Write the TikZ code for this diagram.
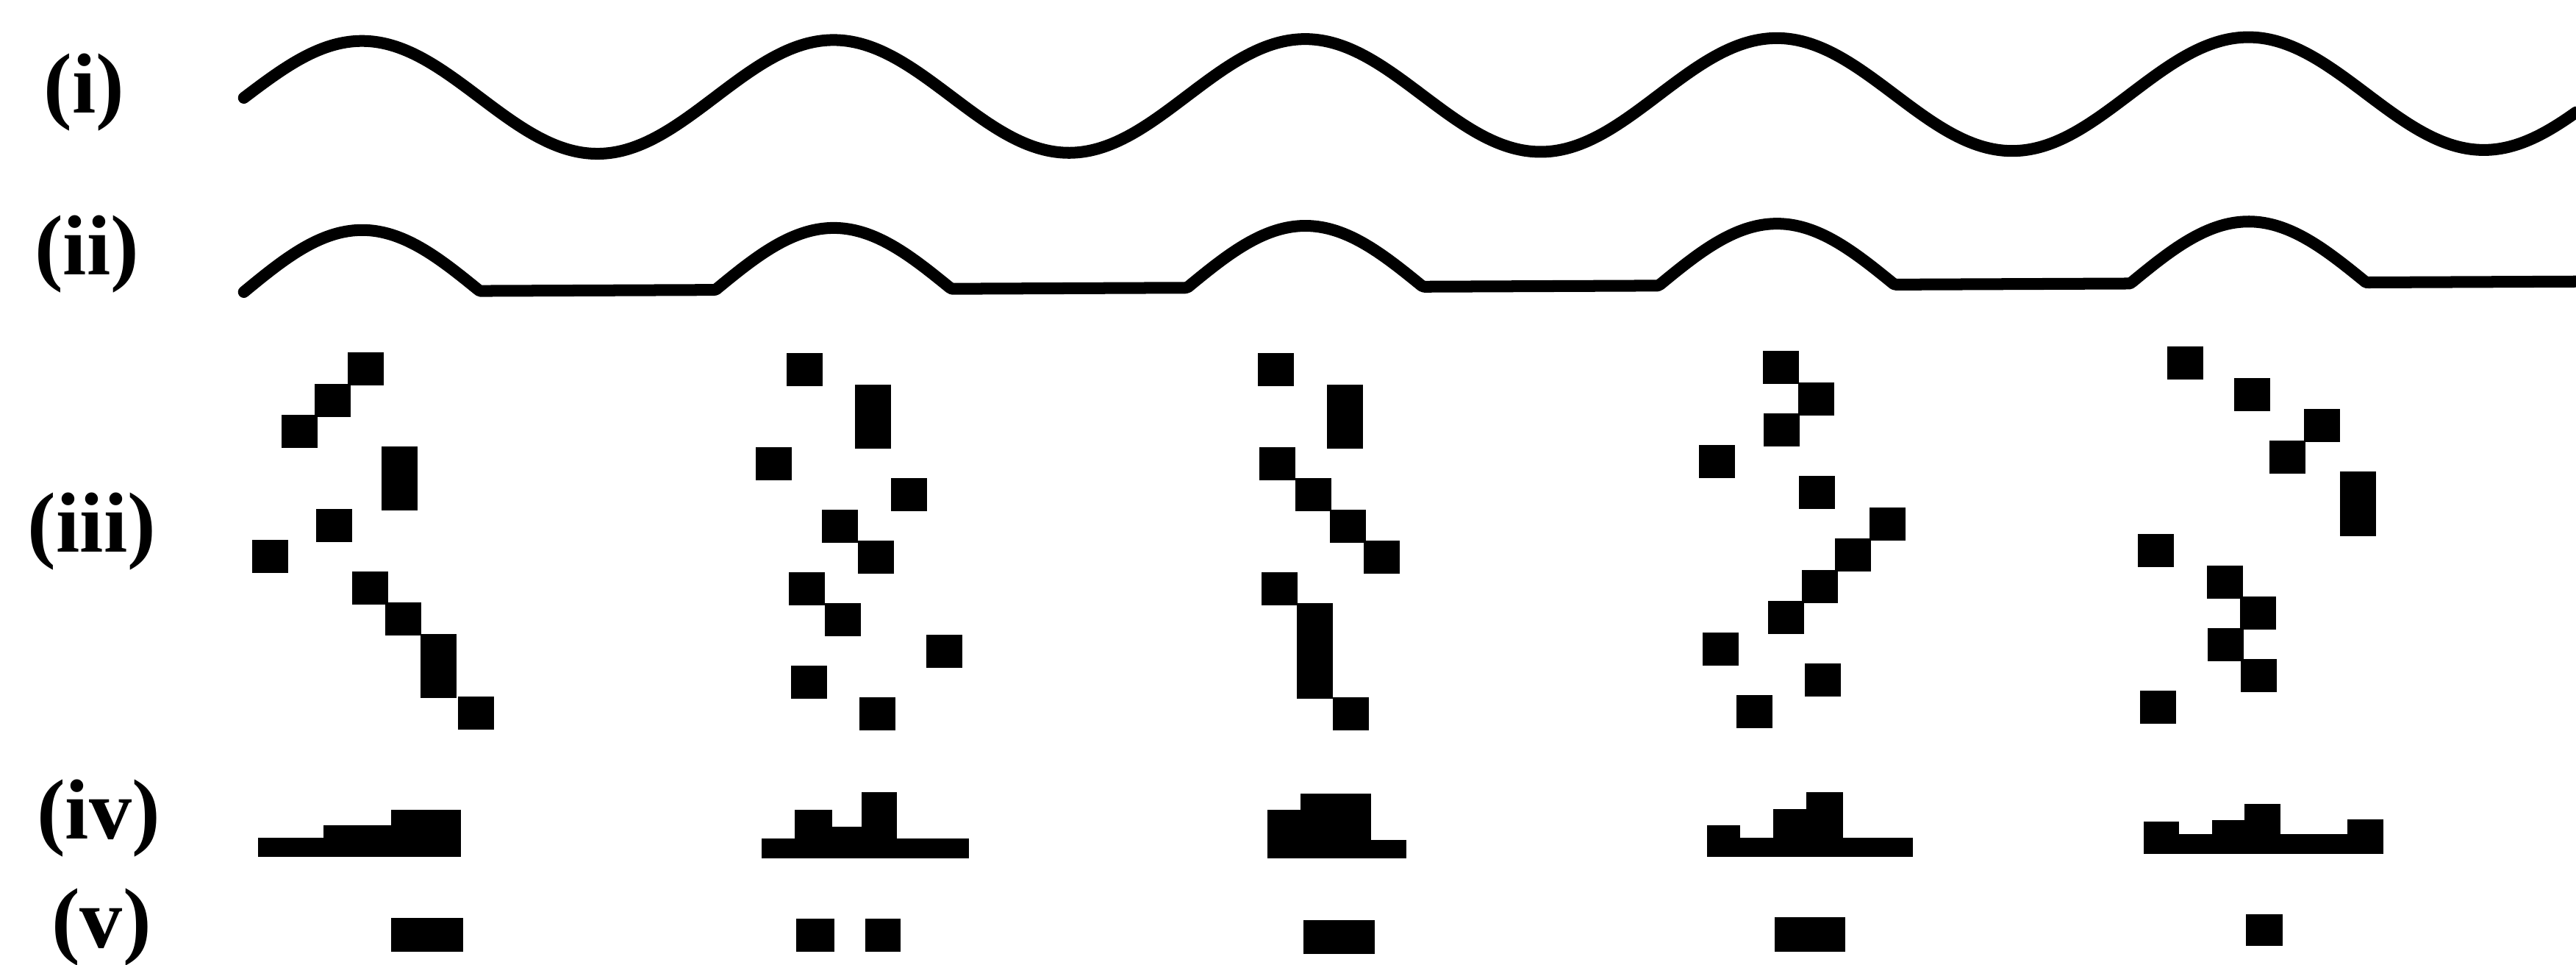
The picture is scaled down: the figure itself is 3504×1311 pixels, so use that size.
\documentclass[tikz,border=0pt]{standalone}
\usepackage{fontspec}
\setmainfont{Liberation Serif}
\begin{document}
\begin{tikzpicture}[x=0.01cm, y=-0.01cm,
  wave/.style={line width=0.16cm, line cap=round, line join=round, black},
  lbl/.style={font=\fontsize{33}{40}\selectfont\bfseries, inner sep=0pt, anchor=base},
  spike/.style={fill=black},
  bar/.style={fill=black}]
\useasboundingbox (0,0) rectangle (3504,1311);
\newcommand\spk[4]{\fill[spike] (#1,{#2+42.5*#3}) rectangle ++(49,{2.5+42.5*#4});}

% labels
\node[lbl] (l1) at (114.7,153) {(i)};
\node[lbl] (l2) at (118,373) {(ii)};
\node[lbl] (l3) at (125,750) {(iii)};
\node[lbl] (l4) at (134,1140) {(iv)};
\node[lbl] (l5) at (138,1288) {(v)};

% (i) sine wave  (period 641.5 px: 360/641.5 = 0.561185)
\draw[wave] plot[domain=331.7:3504, samples=800]
  (\x, {133 - 0.002*(\x-331.7) - 77*sin(0.561185*(\x-331.7))});
% (ii) half-wave rectified
\draw[wave] plot[domain=331.7:3504, samples=900]
  (\x, {397 - 0.0045*(\x-331.7) - 83.5*max(0, sin(0.561185*(\x-331.7)))});

% (iii) group 1
\spk{473}{479}{0}{1} \spk{428}{479}{1}{1} \spk{383}{479}{2}{1} \spk{519}{479}{3}{2}
\spk{430}{479}{5}{1} \spk{343}{479}{6}{1} \spk{479}{479}{7}{1} \spk{524}{479}{8}{1}
\spk{572}{479}{9}{2} \spk{623}{479}{11}{1}
% group 2
\spk{1070}{480}{0}{1} \spk{1163}{480}{1}{2} \spk{1028}{480}{3}{1} \spk{1212}{480}{4}{1}
\spk{1118}{480}{5}{1} \spk{1167}{480}{6}{1} \spk{1073}{480}{7}{1} \spk{1122}{480}{8}{1}
\spk{1260}{480}{9}{1} \spk{1076}{480}{10}{1} \spk{1169}{480}{11}{1}
% group 3
\spk{1711}{480}{0}{1} \spk{1805}{480}{1}{2} \spk{1713}{480}{3}{1} \spk{1762}{480}{4}{1}
\spk{1809}{480}{5}{1} \spk{1855}{480}{6}{1} \spk{1716}{480}{7}{1} \spk{1764}{480}{8}{3}
\spk{1813}{480}{11}{1}
% group 4
\spk{2398}{477}{0}{1} \spk{2446}{477}{1}{1} \spk{2399}{477}{2}{1} \spk{2311}{477}{3}{1}
\spk{2447}{477}{4}{1} \spk{2543}{477}{5}{1} \spk{2496}{477}{6}{1} \spk{2451}{477}{7}{1}
\spk{2405}{477}{8}{1} \spk{2316}{477}{9}{1} \spk{2455}{477}{10}{1} \spk{2362}{477}{11}{1}
% group 5
\spk{2948}{471}{0}{1} \spk{3039}{471}{1}{1} \spk{3134}{471}{2}{1} \spk{3087}{471}{3}{1}
\spk{3183}{471}{4}{2} \spk{2908}{471}{6}{1} \spk{3002}{471}{7}{1} \spk{3047}{471}{8}{1}
\spk{3003}{471}{9}{1} \spk{3048}{471}{10}{1} \spk{2911}{471}{11}{1}

% (iv) histograms
\fill[bar] (350.7,1139.3) rectangle (626.7,1165.4);
\fill[bar] (440,1122) rectangle (626.7,1165.4);
\fill[bar] (531.7,1101.3) rectangle (626.7,1165.4);

\fill[bar] (1036,1140.4) rectangle (1318.3,1166.5);
\fill[bar] (1081,1101.3) rectangle (1131.7,1166.5);
\fill[bar] (1131.7,1124) rectangle (1173.3,1166.5);
\fill[bar] (1172.3,1076.8) rectangle (1220,1166.5);

\fill[bar] (1724,1142) rectangle (1913.3,1166.5);
\fill[bar] (1724,1101.3) rectangle (1769.3,1166.5);
\fill[bar] (1769.3,1078.5) rectangle (1865,1166.5);

\fill[bar] (2321.7,1139.3) rectangle (2601.7,1165.4);
\fill[bar] (2321.7,1122) rectangle (2367.3,1165.4);
\fill[bar] (2411.7,1100.2) rectangle (2456.7,1165.4);
\fill[bar] (2456.7,1076.8) rectangle (2507.3,1165.4);

\fill[bar] (2916,1134) rectangle (3241.7,1161);
\fill[bar] (2916,1116.5) rectangle (2964,1161);
\fill[bar] (3009.3,1115) rectangle (3052.7,1161);
\fill[bar] (3052.7,1093) rectangle (3101.7,1161);
\fill[bar] (3193.3,1113.8) rectangle (3241.7,1161);

% (v) thresholded
\fill[bar] (531.7,1248) rectangle (630,1294);
\fill[bar] (1083.3,1249) rectangle (1135,1294);
\fill[bar] (1176.7,1249) rectangle (1225,1294);
\fill[bar] (1772.7,1251) rectangle (1870,1297);
\fill[bar] (2414,1247) rectangle (2510,1294);
\fill[bar] (3055,1243) rectangle (3105,1286);
\end{tikzpicture}
\end{document}
